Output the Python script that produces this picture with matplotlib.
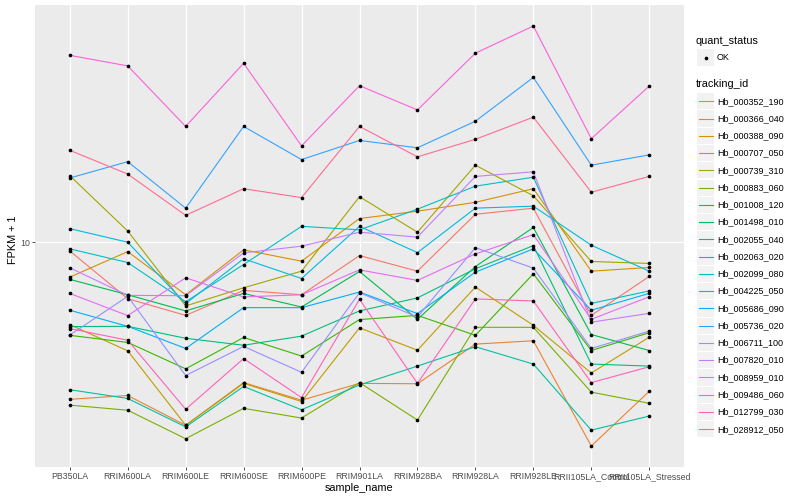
import matplotlib
matplotlib.use("Agg")
import numpy as np
import matplotlib.pyplot as plt
from matplotlib.patches import Rectangle
from matplotlib.ticker import FixedLocator, NullLocator

plt.rcParams['font.family'] = ['Liberation Sans', 'DejaVu Sans']

samples = ["PB350LA", "RRIM600LA", "RRIM600LE", "RRIM600SE", "RRIM600PE",
           "RRIM901LA", "RRIM928BA", "RRIM928LA", "RRIM928LE",
           "RRII105LA_Control", "RRII105LA_Stressed"]

tracking_ids = ["Hb_000352_190", "Hb_000366_040", "Hb_000388_090", "Hb_000707_050",
                "Hb_000739_310", "Hb_000883_060", "Hb_001008_120", "Hb_001498_010",
                "Hb_002055_040", "Hb_002063_020", "Hb_002099_080", "Hb_004225_050",
                "Hb_005686_090", "Hb_005736_020", "Hb_006711_100", "Hb_007820_010",
                "Hb_008959_010", "Hb_009486_060", "Hb_012799_030", "Hb_028912_050"]

# ggplot hue palette, 20 levels
colors = ["#F8766D", "#EA8331", "#D89000", "#C09B00", "#A3A500", "#7CAE00",
          "#39B600", "#00BB4E", "#00BF7D", "#00C1A3", "#00BFC4", "#00BAE0",
          "#00B0F6", "#35A2FF", "#9590FF", "#C77CFF", "#E76BF3", "#FA62DB",
          "#FF62BC", "#FF6C91"]

# FPKM + 1, one list per gene, in sample order
hb_000352_190 = [9.35, 6.47, 5.69, 6.90, 6.67, 9.02, 8.00, 12.4, 13.0, 5.69, 7.68]
hb_000366_040 = [2.98, 3.07, 2.44, 3.39, 2.96, 3.37, 3.36, 4.56, 4.68, 2.08, 3.17]
hb_000388_090 = [7.64, 9.30, 6.67, 9.43, 8.64, 12.0, 12.7, 13.6, 15.1, 8.00, 8.23]
hb_000707_050 = [5.30, 4.33, 2.44, 3.37, 2.93, 5.17, 4.35, 7.08, 5.27, 3.65, 4.81]
hb_000739_310 = [16.7, 10.9, 6.12, 7.04, 8.00, 14.2, 10.8, 18.1, 14.3, 8.62, 8.49]
hb_000883_060 = [2.85, 2.74, 2.20, 2.78, 2.58, 3.39, 2.54, 5.19, 5.19, 3.15, 2.89]
hb_001008_120 = [4.88, 4.62, 3.77, 4.80, 4.16, 5.51, 5.69, 4.88, 7.84, 4.34, 4.98]
hb_001498_010 = [7.51, 6.67, 5.89, 6.74, 6.07, 7.98, 5.52, 8.29, 11.2, 4.91, 4.34]
hb_002055_040 = [5.22, 5.23, 4.77, 4.52, 4.85, 5.89, 6.51, 8.15, 9.74, 3.91, 3.85]
hb_002063_020 = [3.21, 3.00, 2.41, 3.29, 2.75, 3.33, 3.85, 4.47, 3.91, 2.35, 2.62]
hb_002099_080 = [9.50, 8.55, 6.32, 8.42, 11.3, 11.0, 12.9, 15.4, 16.5, 6.24, 6.87]
hb_004225_050 = [11.1, 10.0, 6.23, 8.80, 7.56, 11.3, 9.23, 13.0, 13.2, 9.77, 8.00]
hb_005686_090 = [5.92, 5.23, 4.41, 6.04, 6.04, 6.81, 5.77, 7.94, 9.50, 5.92, 6.74]
hb_005736_020 = [16.4, 18.6, 13.0, 24.4, 18.9, 21.9, 20.7, 25.4, 35.6, 18.1, 19.6]
hb_006711_100 = [4.89, 6.59, 3.58, 4.48, 3.67, 6.78, 5.62, 9.59, 8.19, 4.41, 5.04]
hb_007820_010 = [8.21, 6.64, 6.62, 9.21, 9.70, 10.8, 10.4, 16.6, 17.2, 5.40, 5.78]
hb_008959_010 = [6.74, 5.68, 7.60, 6.56, 6.67, 8.08, 7.45, 9.14, 10.6, 5.52, 6.57]
hb_009486_060 = [42.2, 38.9, 24.4, 39.7, 21.0, 33.4, 27.7, 42.9, 52.9, 22.2, 33.3]
hb_012799_030 = [5.14, 4.70, 2.76, 4.08, 3.02, 6.44, 3.37, 6.46, 6.36, 3.39, 3.83]
hb_028912_050 = [20.3, 16.9, 12.3, 15.1, 14.1, 24.4, 19.3, 22.1, 26.2, 14.7, 16.6]

series = [hb_000352_190, hb_000366_040, hb_000388_090, hb_000707_050, hb_000739_310,
          hb_000883_060, hb_001008_120, hb_001498_010, hb_002055_040, hb_002063_020,
          hb_002099_080, hb_004225_050, hb_005686_090, hb_005736_020, hb_006711_100,
          hb_007820_010, hb_008959_010, hb_009486_060, hb_012799_030, hb_028912_050]

W, H = 800, 500
fig = plt.figure(figsize=(8, 5), dpi=100)
fig.patch.set_facecolor("white")

# panel in pixel terms: x 35..684, y 5..467
ax = fig.add_axes([35 / W, 1 - 467 / H, (684 - 35) / W, (467 - 5) / H])
ax.set_facecolor("#EBEBEB")
for s in ax.spines.values():
    s.set_visible(False)

x = np.arange(len(samples))
for vals, col in zip(series, colors):
    ax.plot(x, vals, color=col, lw=0.8, zorder=2, solid_capstyle="butt")
for vals in series:
    ax.scatter(x, vals, s=7, color="black", lw=0, zorder=3)

ax.set_yscale("log")
allv = np.concatenate([np.array(v) for v in series])
lo, hi = np.log10(allv.min()), np.log10(allv.max())
pad = 0.05 * (hi - lo)
ax.set_ylim(10 ** (lo - pad), 10 ** (hi + pad))
ax.set_xlim(-0.6, len(samples) - 0.4)

ax.yaxis.set_major_locator(FixedLocator([10]))
ax.yaxis.set_minor_locator(NullLocator())
ax.set_yticklabels(["10"])
ax.set_xticks(x)
ax.set_xticklabels(samples)
ax.grid(True, which="major", color="white", lw=0.9)
ax.set_axisbelow(True)
ax.tick_params(axis="both", length=2, width=0.6, color="#333333",
               labelsize=6.3, labelcolor="#4D4D4D", pad=1.5)

fig.text(359.5 / W, 1 - 488 / H, "sample_name", ha="center", va="center", fontsize=7.8)
fig.text(13 / W, 1 - 240 / H, "FPKM + 1", ha="center", va="center",
         rotation=90, fontsize=7.8)

# legend drawn in pixel coordinates
lg = fig.add_axes([0, 0, 1, 1], facecolor="none")
lg.set_xlim(0, W)
lg.set_ylim(H, 0)
lg.axis("off")

lg.text(696, 40.5, "quant_status", va="center", ha="left", fontsize=7.8)
lg.add_patch(Rectangle((697, 49), 17, 17, facecolor="#F2F2F2", edgecolor="none"))
lg.scatter([705.5], [57.5], s=7, color="black", lw=0)
lg.text(717, 57.5, "OK", va="center", ha="left", fontsize=6.5)

lg.text(696, 84, "tracking_id", va="center", ha="left", fontsize=7.8)
step = 17.26
for i, (tid, col) in enumerate(zip(tracking_ids, colors)):
    yc = 101.3 + i * step
    lg.add_patch(Rectangle((697, yc - 8.1), 17, 16.2, facecolor="#F2F2F2", edgecolor="none"))
    lg.plot([698.5, 712.5], [yc, yc], color=col, lw=0.8)
    lg.text(717, yc, tid, va="center", ha="left", fontsize=6.5)

fig.savefig("out.png", dpi=100)
